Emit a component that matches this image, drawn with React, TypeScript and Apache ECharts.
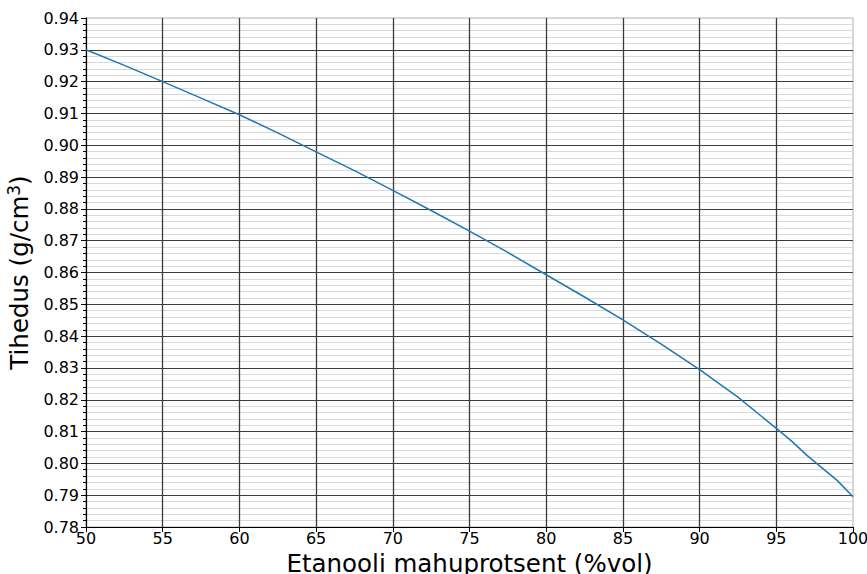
import React, { useEffect, useRef } from "react";
import * as echarts from "echarts";

const xValues = [50, 52.5, 55, 57.5, 60, 62.5, 65, 67.5, 70, 72.5, 75, 77.5, 80, 82.5, 85, 87.5, 90, 92.5, 95, 96, 97, 98, 99, 100];
const densities = [0.930, 0.9251, 0.9200, 0.9148, 0.9096, 0.9039, 0.8979, 0.8920, 0.8858, 0.8795, 0.8730, 0.8663, 0.8593, 0.8523, 0.8451, 0.8375, 0.8295, 0.8208, 0.8110, 0.8070, 0.8025, 0.7985, 0.7945, 0.7895];
const xAxisTitle = "Etanooli mahuprotsent (%vol)";
const yAxisTitleMain = "Tihedus (g/cm";
const yAxisTitleSup = "3";

const FONT = "DejaVu Sans";

export default function App() {
  const ref = useRef<HTMLDivElement>(null);
  useEffect(() => {
    document.body.style.margin = "0";
    if (!ref.current) return;
    const chart = echarts.init(ref.current, null, { renderer: "svg" });
    const data = xValues.map((x, i) => [x, densities[i]]);
    chart.setOption({
      animation: false,
      backgroundColor: "#ffffff",
      grid: {
        left: 86,
        right: 14,
        top: 18,
        bottom: 47,
        containLabel: false,
        outerBoundsMode: "none",
        show: true,
        borderColor: "#b0b0b0",
        borderWidth: 1,
        backgroundColor: "transparent",
      },
      xAxis: {
        type: "value",
        min: 50,
        max: 100,
        interval: 5,
        name: xAxisTitle,
        nameLocation: "middle",
        nameGap: 20,
        nameTextStyle: { fontFamily: FONT, fontSize: 24.5, color: "#000" },
        axisLine: { show: true, onZero: false, lineStyle: { color: "#000", width: 1 } },
        axisTick: { show: true, length: 5, lineStyle: { color: "#000" } },
        axisLabel: {
          fontFamily: FONT,
          fontSize: 16,
          color: "#000",
          margin: 3,
          formatter: (v: number) => String(v),
        },
        splitLine: { show: true, showMaxLine: false, lineStyle: { color: "#3c3c3c", width: 1.3 } },
      },
      yAxis: {
        type: "value",
        min: 0.78,
        max: 0.94,
        interval: 0.01,
        name: "{a|" + yAxisTitleMain + "}{s|" + yAxisTitleSup + "}{a|)}",
        nameLocation: "middle",
        nameRotate: 90,
        nameGap: 46,
        nameTextStyle: {
          fontFamily: FONT,
          fontSize: 24.5,
          color: "#000",
          rich: {
            a: { fontFamily: FONT, fontSize: 24.5, color: "#000" },
            s: { fontFamily: FONT, fontSize: 17, color: "#000", padding: [0, 0, 12, 0] },
          },
        },
        axisLine: { show: true, lineStyle: { color: "#000", width: 1 } },
        axisTick: { show: true, length: 5, lineStyle: { color: "#000" } },
        minorTick: { show: true, splitNumber: 5, length: 3, lineStyle: { color: "#000" } },
        axisLabel: {
          fontFamily: FONT,
          fontSize: 16,
          color: "#000",
          margin: 7,
          formatter: (v: number) => v.toFixed(2),
        },
        splitLine: { show: true, showMaxLine: false, lineStyle: { color: "#3c3c3c", width: 1.2 } },
        minorSplitLine: { show: true, lineStyle: { color: "#d9d9d9", width: 1 } },
      },
      series: [
        {
          type: "line",
          data,
          showSymbol: false,
          symbol: "none",
          lineStyle: { color: "#1f77b4", width: 1.5 },
          z: 5,
        },
      ],
    });
    return () => chart.dispose();
  }, []);
  return <div ref={ref} style={{ width: 867, height: 574 }} />;
}
